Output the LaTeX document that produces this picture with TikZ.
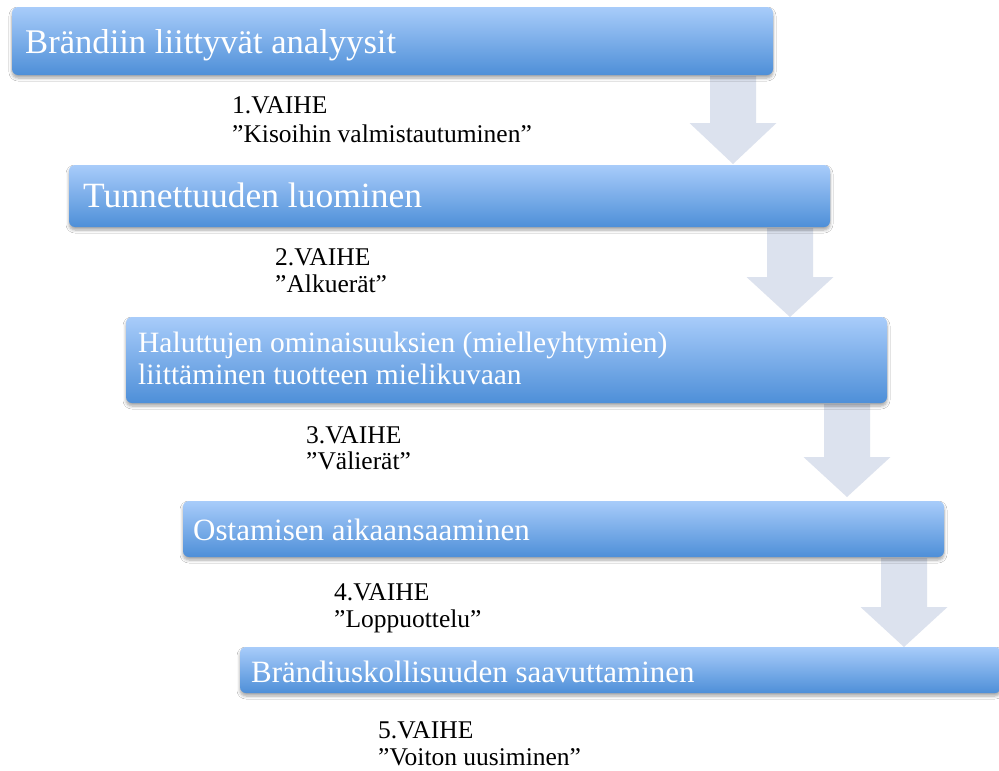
\documentclass[tikz,border=0pt]{standalone}
\usepackage{fontspec}
\setmainfont{Liberation Serif}
\usetikzlibrary{shadows.blur}
\definecolor{boxtop}{RGB}{168,204,250}
\definecolor{boxbot}{RGB}{78,143,216}
\definecolor{arrowfill}{RGB}{220,226,238}
\tikzset{
  stagebox/.style={rectangle, rounded corners=6pt, inner sep=0pt, minimum width=761pt,
    top color=boxtop, bottom color=boxbot, draw=none,
    blur shadow={shadow blur steps=6, shadow xshift=0pt, shadow yshift=-3pt, shadow opacity=35, shadow blur radius=3pt}},
  boxtext/.style={anchor=base west, inner sep=0pt, text=white, text height=22pt, text depth=6pt},
  phase/.style={anchor=base west, inner sep=0pt, text=black, font=\fontsize{25.5}{28}\selectfont,
    text height=18pt, text depth=5pt},
  blockarrow/.style={fill=arrowfill, draw=none}
}
\begin{document}
\begin{tikzpicture}[x=1pt,y=-1pt]
\useasboundingbox (0,0) rectangle (999,771);
\fill[white] (0,0) rectangle (999,771);
% block arrows (drawn beneath the boxes)
\foreach \cx/\top/\hs/\tip in {733/76/123/164, 790/228/277/317, 847/404/457/497, 904/558/607/647}{
  \fill[blockarrow] (\cx-23,\top) -- (\cx+23,\top) -- (\cx+23,\hs) -- (\cx+43.5,\hs) -- (\cx,\tip)
    -- (\cx-43.5,\hs) -- (\cx-23,\hs) -- cycle;
}
% boxes
\node[stagebox, minimum height=68pt] (b1) at (392.5,41) {};
\node[stagebox, minimum height=62pt] (b2) at (449.5,196) {};
\node[stagebox, minimum height=86pt] (b3) at (506.5,360) {};
\node[stagebox, minimum height=56pt] (b4) at (563.5,529) {};
\node[stagebox, minimum height=46pt] (b5) at (620.5,670) {};
% box texts
\node[boxtext, font=\fontsize{34.6}{40}\selectfont] (t1) at (25,53) {Brändiin liittyvät analyysit};
\node[boxtext, font=\fontsize{35.5}{40}\selectfont] (t2) at (83,207) {Tunnettuuden luominen};
\node[boxtext, font=\fontsize{29.5}{26}\selectfont, text height=19pt, text depth=6pt] (t3a) at (138,352) {Haluttujen ominaisuuksien (mielleyhtymien)};
\node[boxtext, font=\fontsize{29.5}{26}\selectfont, text height=19pt, text depth=6pt] (t3b) at (138,384) {liittäminen tuotteen mielikuvaan};
\node[boxtext, font=\fontsize{31}{40}\selectfont] (t4) at (193,540) {Ostamisen aikaansaaminen};
\node[boxtext, font=\fontsize{31}{40}\selectfont] (t5) at (251,682) {Brändiuskollisuuden saavuttaminen};
% phase labels
\node[phase] (p1a) at (232,113) {1.VAIHE};
\node[phase] (p1b) at (232,142) {”Kisoihin valmistautuminen”};
\node[phase] (p2a) at (275,265) {2.VAIHE};
\node[phase] (p2b) at (275,292) {”Alkuerät”};
\node[phase] (p3a) at (306,443) {3.VAIHE};
\node[phase] (p3b) at (306,469) {”Välierät”};
\node[phase] (p4a) at (334,600) {4.VAIHE};
\node[phase] (p4b) at (334,627) {”Loppuottelu”};
\node[phase] (p5a) at (378,738) {5.VAIHE};
\node[phase] (p5b) at (378,765) {”Voiton uusiminen”};
\end{tikzpicture}
\end{document}
